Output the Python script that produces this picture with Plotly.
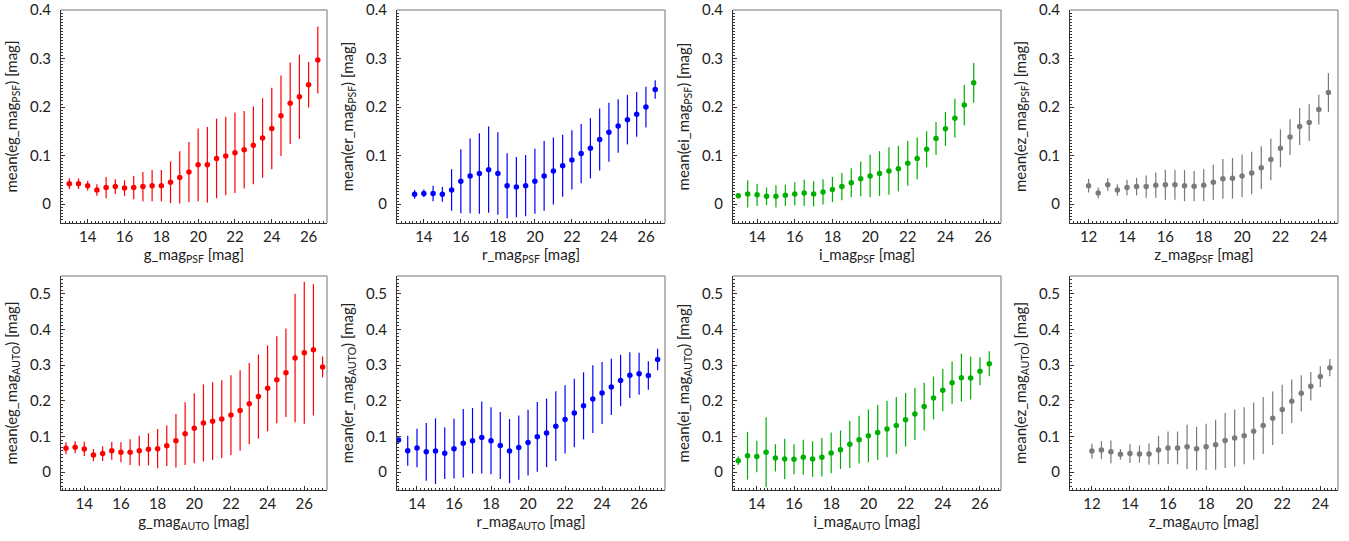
import plotly.graph_objects as go
from plotly.subplots import make_subplots

# ---------------- data ----------------
# top row: PSF magnitudes
g_psf_x = [13 + 0.5 * i for i in range(28)]
g_psf_y = [0.042, 0.042, 0.038, 0.029, 0.034, 0.036, 0.033, 0.034, 0.036, 0.038, 0.038, 0.045, 0.055, 0.066,
           0.081, 0.081, 0.094, 0.099, 0.106, 0.112, 0.121, 0.136, 0.156, 0.182, 0.208, 0.221, 0.246, 0.297]
g_psf_e = [0.011, 0.011, 0.010, 0.012, 0.022, 0.015, 0.016, 0.024, 0.030, 0.032, 0.032, 0.043, 0.054, 0.062,
           0.075, 0.078, 0.082, 0.081, 0.083, 0.080, 0.080, 0.082, 0.084, 0.083, 0.084, 0.087, 0.047, 0.069]

r_psf_x = [13.5 + 0.5 * i for i in range(27)]
r_psf_y = [0.020, 0.022, 0.022, 0.020, 0.029, 0.047, 0.058, 0.063, 0.071, 0.063, 0.038, 0.035, 0.038, 0.047,
           0.058, 0.068, 0.079, 0.091, 0.104, 0.115, 0.133, 0.148, 0.161, 0.174, 0.185, 0.200, 0.236]
r_psf_e = [0.009, 0.008, 0.016, 0.015, 0.043, 0.066, 0.077, 0.083, 0.089, 0.085, 0.067, 0.062, 0.063, 0.067,
           0.072, 0.069, 0.064, 0.061, 0.061, 0.062, 0.064, 0.061, 0.055, 0.051, 0.046, 0.042, 0.019]

i_psf_x = [13 + 0.5 * i for i in range(26)]
i_psf_y = [0.017, 0.021, 0.019, 0.016, 0.016, 0.018, 0.021, 0.023, 0.021, 0.025, 0.030, 0.036, 0.044, 0.052,
           0.058, 0.063, 0.068, 0.073, 0.084, 0.094, 0.113, 0.135, 0.155, 0.177, 0.204, 0.250]
i_psf_e = [0.005, 0.028, 0.023, 0.018, 0.023, 0.022, 0.024, 0.027, 0.026, 0.026, 0.026, 0.028, 0.030, 0.036,
           0.044, 0.046, 0.049, 0.047, 0.046, 0.043, 0.037, 0.034, 0.035, 0.040, 0.042, 0.041]

z_psf_x = [12 + 0.5 * i for i in range(26)]
z_psf_y = [0.038, 0.023, 0.040, 0.029, 0.034, 0.036, 0.036, 0.039, 0.040, 0.040, 0.038, 0.037, 0.039, 0.045,
           0.052, 0.053, 0.058, 0.064, 0.075, 0.092, 0.115, 0.138, 0.160, 0.168, 0.195, 0.230]
z_psf_e = [0.014, 0.011, 0.013, 0.012, 0.016, 0.018, 0.023, 0.026, 0.031, 0.031, 0.032, 0.031, 0.033, 0.036,
           0.041, 0.042, 0.044, 0.044, 0.044, 0.043, 0.039, 0.037, 0.038, 0.038, 0.031, 0.040]

# bottom row: AUTO magnitudes
g_auto_x = [13 + 0.5 * i for i in range(29)]
g_auto_y = [0.067, 0.070, 0.065, 0.048, 0.052, 0.060, 0.056, 0.056, 0.060, 0.064, 0.066, 0.074, 0.088, 0.108,
            0.123, 0.138, 0.143, 0.149, 0.160, 0.173, 0.192, 0.212, 0.235, 0.259, 0.279, 0.320, 0.335, 0.343, 0.295]
g_auto_e = [0.017, 0.017, 0.020, 0.017, 0.021, 0.025, 0.028, 0.036, 0.042, 0.045, 0.055, 0.057, 0.075, 0.088,
            0.098, 0.108, 0.109, 0.109, 0.112, 0.113, 0.114, 0.118, 0.120, 0.122, 0.124, 0.180, 0.199, 0.184, 0.029]

r_auto_x = [13 + 0.5 * i for i in range(29)]
r_auto_y = [0.090, 0.060, 0.068, 0.057, 0.059, 0.053, 0.066, 0.081, 0.088, 0.097, 0.088, 0.075, 0.059, 0.069,
            0.083, 0.099, 0.110, 0.129, 0.148, 0.166, 0.186, 0.205, 0.222, 0.239, 0.257, 0.272, 0.276, 0.271, 0.316]
r_auto_e = [0.005, 0.042, 0.054, 0.081, 0.092, 0.072, 0.084, 0.096, 0.092, 0.101, 0.094, 0.094, 0.090, 0.090,
            0.092, 0.098, 0.096, 0.098, 0.096, 0.096, 0.094, 0.095, 0.087, 0.079, 0.072, 0.064, 0.059, 0.040, 0.030]

i_auto_x = [13 + 0.5 * i for i in range(28)]
i_auto_y = [0.032, 0.046, 0.044, 0.056, 0.040, 0.037, 0.036, 0.042, 0.037, 0.042, 0.054, 0.063, 0.078, 0.091,
            0.102, 0.111, 0.121, 0.131, 0.147, 0.163, 0.184, 0.208, 0.230, 0.251, 0.265, 0.264, 0.283, 0.304]
i_auto_e = [0.012, 0.067, 0.044, 0.098, 0.038, 0.057, 0.042, 0.049, 0.050, 0.054, 0.057, 0.054, 0.066, 0.067,
            0.074, 0.077, 0.079, 0.080, 0.075, 0.073, 0.067, 0.060, 0.059, 0.059, 0.067, 0.060, 0.039, 0.035]

z_auto_x = [12 + 0.5 * i for i in range(26)]
z_auto_y = [0.059, 0.062, 0.057, 0.050, 0.052, 0.051, 0.051, 0.062, 0.068, 0.068, 0.071, 0.066, 0.071, 0.077,
            0.089, 0.096, 0.102, 0.115, 0.131, 0.151, 0.176, 0.199, 0.221, 0.241, 0.268, 0.293]
z_auto_e = [0.021, 0.025, 0.032, 0.015, 0.026, 0.024, 0.030, 0.040, 0.046, 0.046, 0.062, 0.061, 0.065, 0.070,
            0.077, 0.080, 0.080, 0.080, 0.080, 0.075, 0.069, 0.061, 0.051, 0.040, 0.029, 0.024]

bands = ["g", "r", "i", "z"]
colors = ["#ff0000", "#0000ff", "#00b000", "#7a7a7a"]

panels = [
    # (row, col, x, y, err, band, kind)
    (1, 1, g_psf_x, g_psf_y, g_psf_e, "g", "PSF"),
    (1, 2, r_psf_x, r_psf_y, r_psf_e, "r", "PSF"),
    (1, 3, i_psf_x, i_psf_y, i_psf_e, "i", "PSF"),
    (1, 4, z_psf_x, z_psf_y, z_psf_e, "z", "PSF"),
    (2, 1, g_auto_x, g_auto_y, g_auto_e, "g", "AUTO"),
    (2, 2, r_auto_x, r_auto_y, r_auto_e, "r", "AUTO"),
    (2, 3, i_auto_x, i_auto_y, i_auto_e, "i", "AUTO"),
    (2, 4, z_auto_x, z_auto_y, z_auto_e, "z", "AUTO"),
]

x_ranges = {
    (1, 1): [12.55, 27.0], (1, 2): [12.55, 27.03], (1, 3): [12.72, 26.95], (1, 4): [11.03, 25.0],
    (2, 1): [12.73, 27.24], (2, 2): [12.92, 27.4], (2, 3): [12.72, 27.13], (2, 4): [10.85, 24.93],
}
y_ranges = {1: [-0.039, 0.4], 2: [-0.05, 0.55]}
y_minor = {1: 0.00625, 2: 0.01}

W, H = 1349, 541
col_px = [(61, 327), (397, 665), (733, 1001), (1070, 1338)]
row_px = [(10, 223), (276, 490)]

fig = make_subplots(rows=2, cols=4)

FONT = "Lato, 'Open Sans', sans-serif"
AXIS_DARK = "#333333"
BOX_GREY = "#a0a0a0"

for (row, col, xs, ys, es, band, kind) in panels:
    c = colors[bands.index(band)]
    fig.add_trace(
        go.Scatter(
            x=xs, y=ys, mode="markers",
            marker=dict(color=c, size=5.5, line=dict(width=0)),
            error_y=dict(type="data", array=es, visible=True, color=c, thickness=1.2, width=0),
            showlegend=False,
        ),
        row=row, col=col,
    )
    x0, x1 = col_px[col - 1]
    y0, y1 = row_px[row - 1]
    fig.update_xaxes(
        domain=[x0 / W, x1 / W], range=x_ranges[(row, col)],
        dtick=2, tick0=0, ticks="inside", ticklen=4, tickcolor=AXIS_DARK,
        minor=dict(dtick=0.2, ticks="inside", ticklen=2, tickcolor=AXIS_DARK),
        showline=True, linecolor=AXIS_DARK, linewidth=1, mirror=False,
        showgrid=False, zeroline=False,
        tickfont=dict(family=FONT, size=15, color="#222222"),
        title=dict(text=f"{band}_mag<sub>{kind}</sub> [mag]",
                   font=dict(family=FONT, size=15, color="#222222"), standoff=4),
        ticklabelstandoff=0,
        automargin=False,
        row=row, col=col,
    )
    fig.update_yaxes(
        domain=[1 - y1 / H, 1 - y0 / H], range=y_ranges[row],
        dtick=0.1, tick0=0, ticks="inside", ticklen=4, tickcolor=AXIS_DARK,
        minor=dict(dtick=y_minor[row], ticks="inside", ticklen=2, tickcolor=AXIS_DARK),
        showline=True, linecolor=AXIS_DARK, linewidth=1, mirror=False,
        showgrid=False, zeroline=False,
        tickfont=dict(family=FONT, size=15, color="#222222"),
        title=dict(text=f"mean(e{band}_mag<sub>{kind}</sub>) [mag]",
                   font=dict(family=FONT, size=15, color="#222222"), standoff=8),
        ticklabelstandoff=6,
        automargin=False,
        row=row, col=col,
    )
    # grey top/right box edges
    idx = (row - 1) * 4 + col
    xr = "x domain" if idx == 1 else f"x{idx} domain"
    yr = "y domain" if idx == 1 else f"y{idx} domain"
    fig.add_shape(type="line", xref=xr, yref=yr, x0=0, x1=1, y0=1, y1=1,
                  line=dict(color=BOX_GREY, width=1.5))
    fig.add_shape(type="line", xref=xr, yref=yr, x0=1, x1=1, y0=0, y1=1,
                  line=dict(color=BOX_GREY, width=1.5))

fig.update_layout(
    width=W, height=H,
    margin=dict(l=0, r=0, t=0, b=0),
    paper_bgcolor="white", plot_bgcolor="white",
    font=dict(family=FONT, size=15, color="#222222"),
)

fig.write_html("out.html")
